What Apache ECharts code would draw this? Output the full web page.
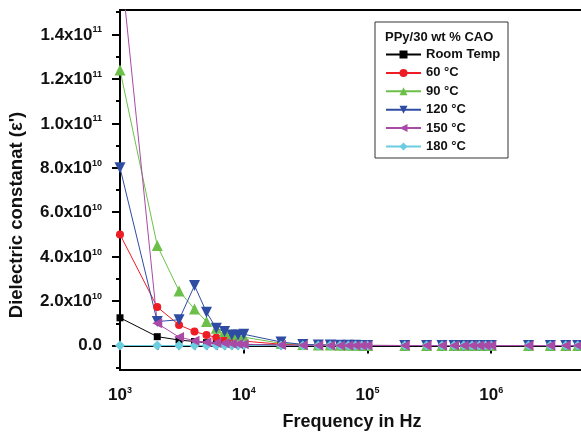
<!DOCTYPE html>
<html>
<head>
<meta charset="utf-8">
<script src="https://cdn.jsdelivr.net/npm/echarts@6/dist/echarts.min.js"></script>
<style>
html,body{margin:0;padding:0;background:#fff}
#chart{width:581px;height:436px}
</style>
</head>
<body>
<div id="chart"></div>
<script>
// frequency (Hz)
var freq = [1e3, 2e3, 3e3, 4e3, 5e3, 6e3, 7e3, 8e3, 9e3,
    1e4, 2e4, 3e4, 4e4, 5e4, 6e4, 7e4, 8e4, 9e4,
    1e5, 2e5, 3e5, 4e5, 5e5, 6e5, 7e5, 8e5, 9e5,
    1e6, 2e6, 3e6, 4e6, 5e6, 6e6, 7e6, 8e6, 9e6, 1e7];

// dielectric constant
var roomTemp = [1.25e10, 4.0e9, 2.5e9, 1.8e9, 1.3e9, 1.0e9, 8e8, 7e8, 6e8,
    5e8, 2e8, 1e8, 7e7, 5e7, 4e7, 3e7, 2.5e7, 2e7,
    1.5e7, 1e7, 5e6, 3e6, 2e6, 1.5e6, 1e6, 8e5, 6e5,
    5e5, 4e5, 2e5, 1e5, 8e4, 6e4, 5e4, 4e4, 3e4, 3e4];
var t60 = [5.0e10, 1.73e10, 9.3e9, 6.3e9, 4.8e9, 3.6e9, 3.0e9, 2.5e9, 2.2e9,
    2.0e9, 6e8, 3e8, 2e8, 1.5e8, 1.2e8, 1e8, 8e7, 7e7,
    6e7, 2e7, 1.2e7, 8e6, 6e6, 5e6, 4e6, 3e6, 2.5e6,
    2e6, 8e5, 5e5, 4e5, 3e5, 2.5e5, 2e5, 1.8e5, 1.5e5, 1.2e5];
var t90 = [1.24e11, 4.5e10, 2.46e10, 1.64e10, 1.08e10, 7.8e9, 6.3e9, 5.1e9, 4.4e9,
    3.8e9, 1.0e9, 5e8, 3e8, 2e8, 1.5e8, 1.2e8, 1e8, 8e7,
    7e7, 2e7, 1.2e7, 8e6, 6e6, 5e6, 4e6, 3e6, 2.5e6,
    2e6, 8e5, 5e5, 4e5, 3e5, 2.5e5, 2e5, 1.8e5, 1.5e5, 1.2e5];
var t120 = [8.0e10, 1.08e10, 1.16e10, 2.7e10, 1.5e10, 7.8e9, 6.3e9, 4.8e9, 4.8e9,
    5.1e9, 1.6e9, 5e8, 3e8, 2e8, 1.5e8, 1.2e8, 1e8, 8e7,
    7e7, 2e7, 1.2e7, 8e6, 6e6, 5e6, 4e6, 3e6, 2.5e6,
    2e6, 8e5, 5e5, 4e5, 3e5, 2.5e5, 2e5, 1.8e5, 1.5e5, 1.2e5];
var t150 = [1.75e11, 1.0e10, 3.8e9, 2.2e9, 1.5e9, 1.2e9, 1.0e9, 8e8, 7e8,
    6e8, 2e8, 1e8, 7e7, 5e7, 4e7, 3e7, 2.5e7, 2e7,
    1.5e7, 1e7, 5e6, 3e6, 2e6, 1.5e6, 1e6, 8e5, 6e5,
    5e5, 4e5, 2e5, 1e5, 8e4, 6e4, 5e4, 4e4, 3e4, 3e4];
var t180 = [2e7, 1e7, 8e6, 6e6, 5e6, 4e6, 3e6, 2.5e6, 2e6,
    1.8e6, 1e6, 8e5, 6e5, 5e5, 4e5, 3e5, 2.5e5, 2e5,
    1.5e5, 1e5, 8e4, 6e4, 5e4, 4e4, 3e4, 2.5e4, 2e4,
    1.5e4, 1e4, 8e3, 6e3, 5e3, 4e3, 3e3, 2.5e3, 2e3, 1e3];

var seriesNames = ['Room Temp', '60 °C', '90 °C', '120 °C', '150 °C', '180 °C'];

// axis ticks
var yLabelValues = [0, 2e10, 4e10, 6e10, 8e10, 1e11, 1.2e11, 1.4e11];
var yMinorValues = [-1e10, 1e10, 3e10, 5e10, 7e10, 9e10, 1.1e11, 1.3e11, 1.5e11];
var xLabelValues = [1e3, 1e4, 1e5, 1e6, 1e7];
var xMinorValues = [2e3, 3e3, 4e3, 5e3, 6e3, 7e3, 8e3, 9e3,
    2e4, 3e4, 4e4, 5e4, 6e4, 7e4, 8e4, 9e4,
    2e5, 3e5, 4e5, 5e5, 6e5, 7e5, 8e5, 9e5,
    2e6, 3e6, 4e6, 5e6, 6e6, 7e6, 8e6, 9e6];

var FONT = '"Liberation Sans", Arial, sans-serif';

function pairs(vals) {
    return freq.map(function (f, i) { return [f, vals[i]]; });
}

var supRich = {
    b: {fontSize: 17, fontWeight: 'bold', fontFamily: FONT, color: '#111', verticalAlign: 'bottom'},
    s: {fontSize: 9, fontWeight: 'bold', fontFamily: FONT, color: '#111', verticalAlign: 'bottom', padding: [0, 0, 9, 0]}
};

function lineSeries(name, vals, color, symbol, size, rotate) {
    return {
        name: name,
        type: 'line',
        data: pairs(vals),
        symbol: symbol,
        symbolSize: size,
        symbolRotate: rotate || 0,
        showAllSymbol: true,
        clip: true,
        color: color,
        lineStyle: {width: 1, color: color},
        itemStyle: {color: color},
        emphasis: {disabled: true}
    };
}

var myChart = echarts.init(document.getElementById('chart'));
var option = {
    animation: false,
    backgroundColor: '#fff',
    grid: {
        left: 120, top: 10, width: 495, height: 360,
        outerBoundsMode: 'none',
        containLabel: false,
        show: true, borderColor: '#000', borderWidth: 2, backgroundColor: 'transparent'
    },
    legend: {
        orient: 'vertical',
        left: 385,
        top: 48,
        padding: 0,
        itemWidth: 35,
        itemHeight: 10,
        itemGap: 5.4,
        data: seriesNames,
        textStyle: {fontSize: 13, fontWeight: 'bold', fontFamily: FONT, color: '#111'}
    },
    xAxis: [{
        type: 'log',
        logBase: 10,
        min: 1e3,
        max: 1e7,
        axisLine: {lineStyle: {color: '#000', width: 2}},
        axisTick: {inside: false, length: 8, lineStyle: {color: '#000', width: 2}, customValues: xLabelValues},
        axisLabel: {
            margin: 16,
            customValues: xLabelValues,
            formatter: function (v) {
                return '{b|10}{s|' + Math.round(Math.log10(v)) + '}';
            },
            rich: supRich
        },
        splitLine: {show: false},
        minorTick: {show: false}
    }, {
        type: 'log',
        logBase: 10,
        min: 1e3,
        max: 1e7,
        position: 'bottom',
        axisLine: {show: false},
        axisTick: {inside: false, length: 4, lineStyle: {color: '#000', width: 2}, customValues: xMinorValues},
        axisLabel: {show: false},
        splitLine: {show: false}
    }],
    yAxis: [{
        type: 'value',
        min: -1.1e10,
        max: 1.51e11,
        axisLine: {show: true, lineStyle: {color: '#000', width: 2}},
        axisTick: {show: true, inside: false, length: 8, lineStyle: {color: '#000', width: 2}, customValues: yLabelValues},
        axisLabel: {
            margin: 18,
            customValues: yLabelValues,
            formatter: function (v) {
                if (v === 0) return '{b|0.0}';
                var e = Math.floor(Math.log10(v) + 1e-9);
                var m = v / Math.pow(10, e);
                return '{b|' + m.toFixed(1) + 'x10}{s|' + e + '}';
            },
            rich: supRich
        },
        splitLine: {show: false}
    }, {
        type: 'value',
        min: -1.1e10,
        max: 1.51e11,
        position: 'left',
        axisLine: {show: false},
        axisTick: {show: true, inside: false, length: 4, lineStyle: {color: '#000', width: 2}, customValues: yMinorValues},
        axisLabel: {show: false},
        splitLine: {show: false}
    }],
    graphic: [{
        type: 'rect',
        shape: {x: 375, y: 22, width: 133, height: 136},
        style: {fill: '#fff', stroke: '#333', lineWidth: 1},
        z: 3
    }, {
        type: 'text',
        x: 385, y: 37,
        style: {text: 'PPy/30 wt % CAO', font: 'bold 13px ' + FONT, fill: '#111', verticalAlign: 'middle'},
        z: 5
    }, {
        type: 'text',
        x: 352, y: 422,
        style: {text: 'Frequency in Hz', font: 'bold 18px ' + FONT, fill: '#111', align: 'center', verticalAlign: 'middle'},
        z: 5
    }, {
        type: 'text',
        x: 17, y: 215,
        rotation: Math.PI / 2,
        style: {text: "Dielectric constanat (ε')", font: 'bold 18.5px ' + FONT, fill: '#111', align: 'center', verticalAlign: 'middle'},
        z: 5
    }],
    series: [
        lineSeries(seriesNames[0], roomTemp, '#000000', 'rect', 7),
        lineSeries(seriesNames[1], t60, '#ee1c24', 'circle', 8),
        lineSeries(seriesNames[2], t90, '#6cc04a', 'triangle', 11),
        lineSeries(seriesNames[3], t120, '#2f4ca3', 'triangle', 11, 180),
        lineSeries(seriesNames[5], t180, '#6ccde0', 'diamond', 10),
        lineSeries(seriesNames[4], t150, '#a94aa6', 'triangle', 10, 90)
    ]
};
myChart.setOption(option);
</script>
</body>
</html>
